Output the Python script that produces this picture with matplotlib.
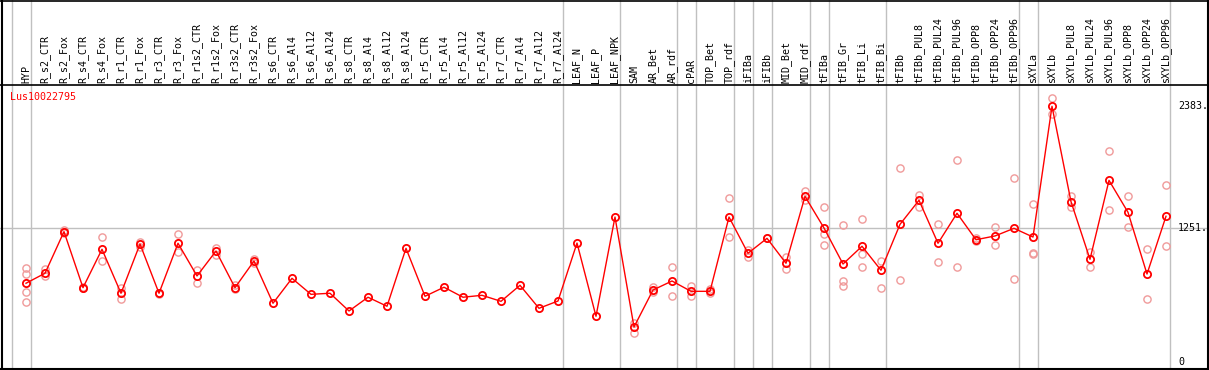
import matplotlib
matplotlib.use("Agg")
import matplotlib.pyplot as plt
import matplotlib.transforms as mtransforms
from matplotlib.lines import Line2D

# --- data ---
gene = "Lus10022795"

samples = [
    "HYP", "R_s2_CTR", "R_s2_Fox", "R_s4_CTR", "R_s4_Fox", "R_r1_CTR", "R_r1_Fox",
    "R_r3_CTR", "R_r3_Fox", "R_r1s2_CTR", "R_r1s2_Fox", "R_r3s2_CTR", "R_r3s2_Fox",
    "R_s6_CTR", "R_s6_Al4", "R_s6_Al12", "R_s6_Al24", "R_s8_CTR", "R_s8_Al4",
    "R_s8_Al12", "R_s8_Al24", "R_r5_CTR", "R_r5_Al4", "R_r5_Al12", "R_r5_Al24",
    "R_r7_CTR", "R_r7_Al4", "R_r7_Al12", "R_r7_Al24", "LEAF_N", "LEAF_P", "LEAF_NPK",
    "SAM", "AR_Bet", "AR_rdf", "cPAR", "TOP_Bet", "TOP_rdf", "iFIBa", "iFIBb",
    "MID_Bet", "MID_rdf", "tFIBa", "tFIB_Gr", "tFIB_Li", "tFIB_Bi", "tFIBb",
    "tFIBb_PUL8", "tFIBb_PUL24", "tFIBb_PUL96", "tFIBb_OPP8", "tFIBb_OPP24",
    "tFIBb_OPP96", "sXYLa", "sXYLb", "sXYLb_PUL8", "sXYLb_PUL24", "sXYLb_PUL96",
    "sXYLb_OPP8", "sXYLb_OPP24", "sXYLb_OPP96",
]

expr = [
    737, 830, 1217, 696, 1053, 644, 1102, 644, 1109, 805, 1037, 696, 944,
    551, 783, 634, 644, 479, 607, 523, 1062, 616, 700, 607, 625, 569, 718, 504, 572,
    1111, 430, 1353,
    330, 674, 758, 662, 662, 1353, 1016, 1155, 923, 1545, 1251, 916, 1081, 858,
    1285, 1509, 1109, 1388, 1142, 1177, 1248, 1167,
    2383, 1496, 960, 1694, 1397, 823, 1360,
]

replicates = [
    [876, 823, 659, 566], [870, 805], [1230, 1205], [705, 690], [1165, 947],
    [690, 591], [1124, 1077], [650, 640], [1192, 1025], [860, 737], [1068, 1000],
    [720, 680], [960, 925],
    [], [], [], [], [], [], [], [], [], [], [], [], [], [], [], [],
    [], [], [],
    [365, 277], [705, 653], [888, 616], [712, 616], [680, 645], [1527, 1165],
    [1046, 984], [1155], [984, 873], [1598, 1511], [1446, 1195, 1090],
    [1276, 761, 712], [1335, 1006, 888], [941, 690], [1806, 765],
    [1558, 1449], [1285, 938], [1881, 886], [1155, 1130], [1258, 1090],
    [1713, 774], [1471, 1016, 1006],
    [2457, 2308], [1549, 1449], [1028, 891], [1964, 1416], [1545, 1258],
    [1053, 594], [1648, 1081],
]

# gray group separators sit just after these sample indices
group_ends = [-1, 0, 28, 31, 34, 35, 37, 38, 39, 41, 42, 45, 52, 53, 59.96]

axis_marks = [0, 1251, 2383]
axis_labels = ["0", "1251.", "2383."]

# --- layout (pixel based, figure is 1209 x 370) ---
W, H = 1209, 370
fig = plt.figure(figsize=(W / 100, H / 100), dpi=100)
fig.patch.set_facecolor("white")

left, right, top, bottom = 1, 1170, 85, 368
ax = fig.add_axes([left / W, (H - bottom) / H, (right - left) / W, (bottom - top) / H])
ax.set_xlim((left - 26) / 19, (right - 26) / 19)
ax.set_ylim(1251 - (bottom - 228) * 9.302, 1251 + (228 - top) * 9.302)
ax.set_xticks([])
ax.set_yticks([])
for s in ax.spines.values():
    s.set_visible(False)

font = dict(family="DejaVu Sans Mono", fontsize=7.2)
gray = "#c0c0c0"
top_ext = bottom / (bottom - top)  # axes fraction of the figure top

for g in group_ends:
    ax.axvline(g + 0.25, ymin=0, ymax=top_ext, color=gray, lw=1, clip_on=False, zorder=0)
ax.axhline(1251, xmin=-left / (right - left), xmax=(W - left) / (right - left),
           color=gray, lw=1, clip_on=False, zorder=0)

xs = list(range(len(samples)))
for i, vals in enumerate(replicates):
    if vals:
        ax.plot([i] * len(vals), vals, ls="none", marker="o", ms=5.2, mfc="none",
                mec="#f09a9a", mew=1.0, zorder=2, clip_on=False)
ax.plot(xs, expr, color="red", lw=1, marker="o", ms=5.2, mfc="none", mec="red",
        mew=1.3, zorder=3, clip_on=False)

# sample labels above the plot
trans = mtransforms.blended_transform_factory(ax.transData, ax.transAxes)
for i, name in enumerate(samples):
    ax.text(i, (bottom - 83) / (bottom - top), name, rotation=90, ha="center", va="bottom",
            transform=trans, clip_on=False, **font)

ax.text(9 / (right - left), (bottom - 97) / (bottom - top), gene, color="red",
        ha="left", va="center", transform=ax.transAxes, **font)

# value marks on the right
rtrans = mtransforms.blended_transform_factory(ax.transAxes, ax.transData)
for v, lab in zip(axis_marks, axis_labels):
    ax.text((1178 - left) / (right - left), v, lab, ha="left", va="center",
            transform=rtrans, clip_on=False, **font)

# outer frame and label separator
def px_line(x0, y0, x1, y1, **kw):
    fig.add_artist(Line2D([x0 / W, x1 / W], [1 - y0 / H, 1 - y1 / H],
                          transform=fig.transFigure, color="black", **kw))

px_line(0, 0.5, W, 0.5, lw=1.2)
px_line(0, 368.5, W, 368.5, lw=1.5)
px_line(1.5, 0, 1.5, H, lw=1.5)
px_line(W - 1.5, 0, W - 1.5, H, lw=1.5)
px_line(0, 85, W, 85, lw=1.2)

fig.savefig("out.png", dpi=100, facecolor="white")
